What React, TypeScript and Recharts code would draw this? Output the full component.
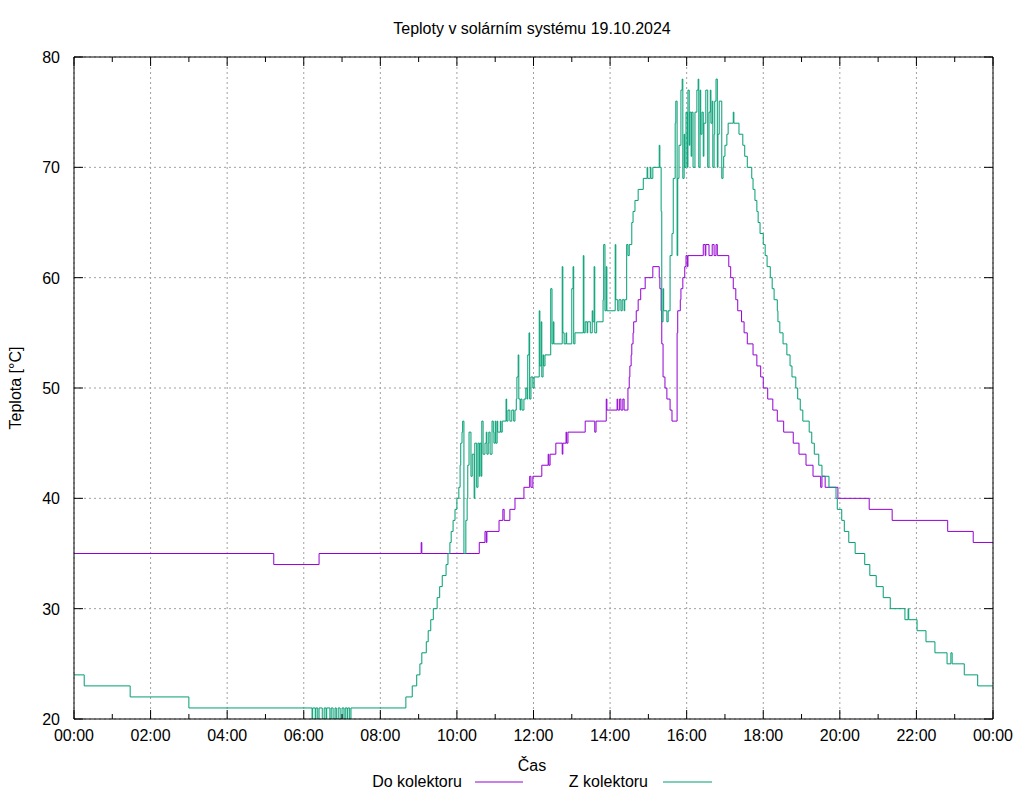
import { CartesianGrid, Line, LineChart, XAxis, YAxis } from 'recharts'

// [minute of day, °C]
const doKolektoru: [number, number][] = [
  [0, 35], [313, 34], [384, 35], [544, 36], [545, 35], [635, 36], [644, 37], [646, 36], [647, 37],
  [666, 38], [672, 39], [674, 38], [683, 39], [691, 40], [705, 41], [714, 42], [716, 41], [719, 42],
  [733, 43], [743, 44], [744, 43], [746, 44], [755, 45], [765, 44], [766, 45], [771, 46], [772, 45],
  [774, 46], [801, 47], [816, 46], [818, 47], [834, 49], [835, 48], [851, 49], [852, 48], [855, 49],
  [857, 48], [860, 49], [862, 48], [868, 50], [870, 51], [871, 52], [873, 53], [874, 54], [876, 55],
  [877, 56], [881, 57], [884, 58], [888, 59], [895, 60], [907, 61], [917, 60], [918, 59], [920, 57],
  [921, 54], [923, 51], [926, 50], [929, 49], [934, 48], [937, 47], [945, 55], [946, 57], [950, 58],
  [951, 59], [954, 60], [957, 61], [959, 62], [961, 61], [962, 62], [986, 63], [989, 62], [990, 63],
  [995, 62], [1000, 63], [1003, 62], [1006, 63], [1008, 62], [1026, 61], [1029, 60], [1033, 59],
  [1037, 58], [1040, 57], [1046, 56], [1050, 55], [1055, 54], [1064, 53], [1070, 52], [1076, 51],
  [1080, 50], [1087, 49], [1095, 48], [1102, 47], [1112, 46], [1127, 45], [1136, 44], [1147, 43],
  [1158, 42], [1170, 41], [1172, 42], [1177, 41], [1197, 40], [1246, 39], [1282, 38], [1369, 37],
  [1409, 36], [1440, 36],
]

const zKolektoru: [number, number][] = [
  [0, 24], [16, 23], [88, 22], [180, 21],
  [373, 20], [374, 21], [378, 20], [379, 21], [382, 20], [384, 21], [389, 20], [392, 21], [395, 20],
  [396, 21], [401, 20], [403, 21], [406, 20], [409, 21], [411, 20], [414, 21], [417, 20], [420, 21],
  [423, 20], [425, 21], [428, 20], [429, 21], [432, 20], [434, 21],
  [520, 22], [530, 23], [537, 24], [542, 25], [545, 26], [552, 27], [555, 28], [559, 29], [563, 30],
  [569, 31], [573, 32], [577, 33], [583, 34], [586, 35], [589, 36], [591, 37], [594, 38], [597, 39],
  [600, 40], [603, 41], [605, 43], [606, 45], [608, 46], [609, 47], [611, 35], [614, 38], [616, 40],
  [617, 43], [619, 46], [622, 42], [624, 44], [627, 40], [628, 45], [631, 41], [633, 45], [635, 42],
  [636, 45], [638, 42], [639, 47], [641, 44], [644, 45], [646, 46], [647, 44], [649, 45], [650, 46],
  [652, 44], [655, 47], [657, 46], [658, 45], [660, 47], [661, 45], [663, 47], [664, 46], [668, 47],
  [669, 46], [671, 47], [677, 49], [678, 47], [680, 48], [683, 47], [686, 48], [689, 47], [691, 48],
  [693, 49], [694, 51], [696, 53], [697, 49], [699, 48], [700, 49], [702, 48], [705, 49], [708, 50],
  [710, 49], [711, 53], [713, 55], [714, 49], [716, 51], [719, 50], [721, 51], [729, 57], [730, 52],
  [732, 56], [733, 51], [735, 53], [736, 52], [738, 53], [747, 59], [749, 54], [751, 56], [752, 54],
  [765, 61], [766, 55], [768, 54], [771, 55], [772, 54], [780, 59], [782, 61], [783, 54], [785, 55],
  [798, 62], [799, 55], [801, 56], [804, 55], [805, 56], [809, 55], [812, 57], [813, 56], [815, 61],
  [816, 55], [819, 56], [829, 58], [830, 63], [832, 57], [834, 61], [835, 57], [848, 63], [849, 58],
  [852, 57], [854, 58], [857, 57], [859, 58], [862, 57], [863, 58], [866, 63], [868, 62], [870, 63],
  [874, 65], [876, 66], [879, 67], [884, 68], [892, 69], [898, 70], [899, 69], [903, 70], [904, 69],
  [907, 70], [917, 72], [918, 70], [920, 66], [921, 56], [923, 59], [924, 57], [929, 56], [931, 57],
  [934, 62], [937, 64], [939, 69], [942, 74], [943, 76], [945, 62], [946, 69], [948, 72], [951, 77],
  [953, 78], [954, 69], [956, 73], [957, 70], [959, 75], [961, 70], [962, 77], [964, 72], [965, 75],
  [967, 71], [968, 75], [970, 70], [973, 75], [976, 77], [978, 78], [979, 70], [981, 77], [982, 73],
  [984, 75], [986, 71], [987, 74], [990, 77], [993, 70], [995, 75], [997, 77], [998, 74], [1000, 76],
  [1001, 70], [1003, 73], [1004, 76], [1006, 78], [1008, 70], [1009, 73], [1011, 76], [1015, 69],
  [1017, 70], [1018, 71], [1020, 72], [1023, 73], [1025, 74], [1033, 75], [1034, 74], [1042, 73],
  [1048, 72], [1051, 71], [1055, 70], [1062, 69], [1064, 68], [1067, 67], [1070, 66], [1072, 65],
  [1075, 64], [1080, 63], [1083, 62], [1086, 61], [1091, 60], [1094, 59], [1097, 58], [1102, 57],
  [1103, 56], [1106, 55], [1111, 54], [1117, 53], [1122, 52], [1125, 51], [1131, 50], [1134, 49],
  [1138, 48], [1142, 47], [1152, 46], [1156, 45], [1160, 44], [1167, 43], [1172, 42], [1183, 41],
  [1194, 40], [1196, 39], [1203, 38], [1207, 37], [1214, 36], [1224, 35], [1239, 34], [1247, 33],
  [1257, 32], [1268, 31], [1279, 30], [1302, 29], [1307, 30], [1308, 29], [1321, 28], [1335, 27],
  [1349, 26], [1368, 25], [1374, 26], [1376, 25], [1395, 24], [1416, 23], [1440, 23],
]

const hourTicks = [
  0, 60, 120, 180, 240, 300, 360, 420, 480, 540, 600, 660, 720, 780, 840, 900, 960, 1020, 1080,
  1140, 1200, 1260, 1320, 1380, 1440,
]
const majorTicks = [0, 120, 240, 360, 480, 600, 720, 840, 960, 1080, 1200, 1320, 1440]
const tempTicks = [20, 30, 40, 50, 60, 70, 80]

const FONT = '"Liberation Sans", Arial, sans-serif'
const PURPLE = '#9400d3'
const GREEN = '#009e73'

const toRows = (pts: [number, number][]) => pts.map(([m, v]) => ({ m, v }))

const hhmm = (m: number) => {
  const h = Math.floor(m / 60) % 24
  return `${String(h).padStart(2, '0')}:00`
}

const isMajor = (m: number) => m % 120 === 0

function BottomTick(props: any) {
  const { x, y, payload } = props
  const major = isMajor(payload.value)
  return (
    <g>
      <line x1={x} x2={x} y1={y} y2={y - (major ? 9 : 5)} stroke="#000" />
      {major && (
        <text x={x} y={y + 22} textAnchor="middle" fontSize={16} fontFamily={FONT} fill="#000">
          {hhmm(payload.value)}
        </text>
      )}
    </g>
  )
}

function TopTick(props: any) {
  const { x, y, payload } = props
  const major = isMajor(payload.value)
  return <line x1={x} x2={x} y1={y} y2={y + (major ? 9 : 5)} stroke="#000" />
}

function LeftTick(props: any) {
  const { x, y, payload } = props
  return (
    <g>
      <line x1={x} x2={x + 9} y1={y} y2={y} stroke="#000" />
      <text x={x - 14} y={y + 6} textAnchor="end" fontSize={16} fontFamily={FONT} fill="#000">
        {payload.value}
      </text>
    </g>
  )
}

function RightTick(props: any) {
  const { x, y } = props
  return <line x1={x} x2={x - 9} y1={y} y2={y} stroke="#000" />
}

export default function App() {
  return (
    <div style={{ position: 'absolute', left: 0, top: 0, width: 1024, height: 800, background: '#fff' }}>
      <LineChart width={1024} height={800} margin={{ top: 56, right: 30, bottom: 0, left: 0 }}>
        <CartesianGrid
          stroke="#a0a0a0"
          strokeDasharray="2 3"
          verticalValues={majorTicks}
          horizontalValues={tempTicks}
        />
        <XAxis
          dataKey="m"
          type="number"
          domain={[0, 1440]}
          allowDataOverflow
          ticks={hourTicks}
          interval={0}
          height={81}
          tickSize={0}
          tickMargin={0}
          tickLine={false}
          axisLine={{ stroke: '#000' }}
          tick={(p: any) => <BottomTick {...p} />}
        />
        <XAxis
          xAxisId="top"
          orientation="top"
          dataKey="m"
          type="number"
          domain={[0, 1440]}
          allowDataOverflow
          ticks={hourTicks}
          interval={0}
          height={1}
          tickSize={0}
          tickMargin={0}
          tickLine={false}
          axisLine={{ stroke: '#000' }}
          tick={(p: any) => <TopTick {...p} />}
        />
        <YAxis
          type="number"
          domain={[20, 80]}
          allowDataOverflow
          ticks={tempTicks}
          interval={0}
          width={74}
          tickSize={0}
          tickMargin={0}
          tickLine={false}
          axisLine={{ stroke: '#000' }}
          tick={(p: any) => <LeftTick {...p} />}
        />
        <YAxis
          yAxisId="right"
          orientation="right"
          type="number"
          domain={[20, 80]}
          allowDataOverflow
          ticks={tempTicks}
          interval={0}
          width={1}
          tickSize={0}
          tickMargin={0}
          tickLine={false}
          axisLine={{ stroke: '#000' }}
          tick={(p: any) => <RightTick {...p} />}
        />
        <Line
          data={toRows(doKolektoru)}
          dataKey="v"
          name="Do kolektoru"
          type="stepAfter"
          stroke={PURPLE}
          strokeWidth={1}
          dot={false}
          activeDot={false}
          isAnimationActive={false}
        />
        <Line
          data={toRows(zKolektoru)}
          dataKey="v"
          name="Z kolektoru"
          type="stepAfter"
          stroke={GREEN}
          strokeWidth={1}
          dot={false}
          activeDot={false}
          isAnimationActive={false}
        />
      </LineChart>
      <svg
        width={1024}
        height={800}
        style={{ position: 'absolute', left: 0, top: 0, pointerEvents: 'none' }}
        fontFamily={FONT}
        fontSize={16}
      >
        <text x={532} y={34} textAnchor="middle">Teploty v solárním systému 19.10.2024</text>
        <text x={532} y={771} textAnchor="middle">Čas</text>
        <text transform="translate(21,388) rotate(-90)" textAnchor="middle">Teplota [°C]</text>
        <text x={462} y={787} textAnchor="end">Do kolektoru</text>
        <line x1={475} x2={523} y1={782} y2={782} stroke={PURPLE} />
        <text x={648} y={787} textAnchor="end">Z kolektoru</text>
        <line x1={663} x2={712} y1={782} y2={782} stroke={GREEN} />
      </svg>
    </div>
  )
}
